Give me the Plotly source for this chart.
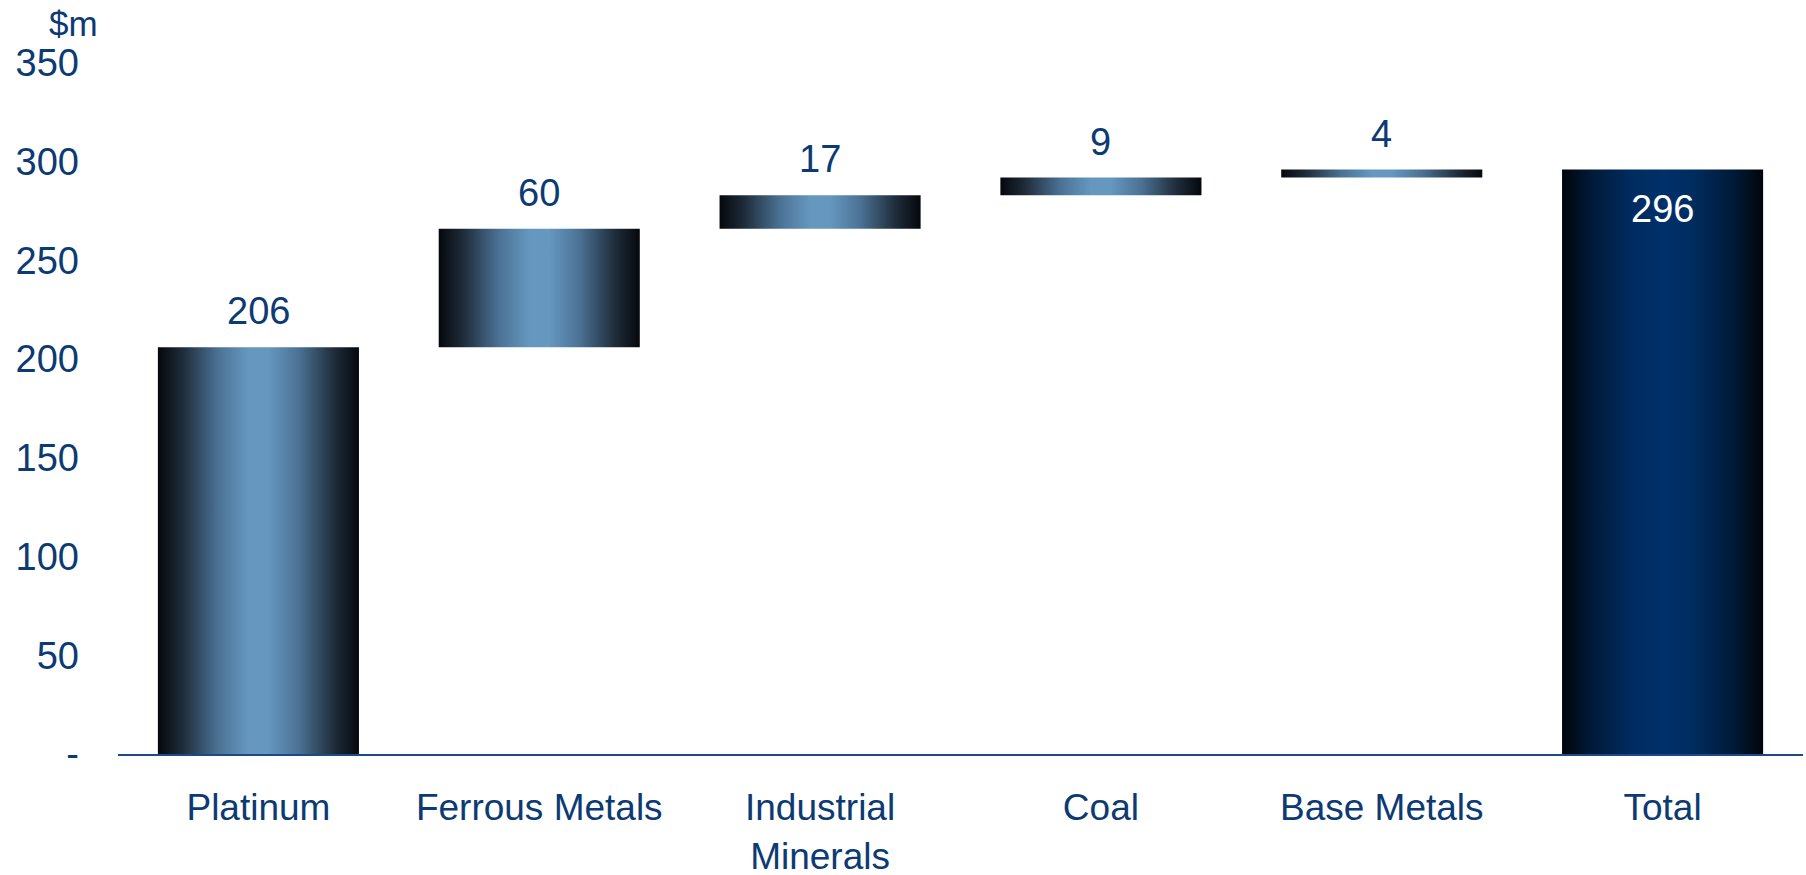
import plotly.graph_objects as go

categories = ["Platinum", "Ferrous Metals", "Industrial<br>Minerals", "Coal", "Base Metals", "Total"]
steps = [206, 60, 17, 9, 4]
total = 296
y_ticks = [0, 50, 100, 150, 200, 250, 300, 350]
y_tick_text = ["-", "50", "100", "150", "200", "250", "300", "350"]

NAVY = "#0c3a72"
FONT = "Arial, Liberation Sans, sans-serif"
BAR_W = 0.716

# dark edges, light centre – like the shaded slide bars
step_scale = [
    [0.0, "#05080c"], [0.12, "#1e2b39"], [0.3, "#4b7294"], [0.45, "#6597bf"],
    [0.55, "#6597bf"], [0.7, "#4b7294"], [0.88, "#1e2b39"], [1.0, "#05080c"],
]
total_scale = [
    [0.0, "#00050c"], [0.15, "#001a38"], [0.35, "#002c60"], [0.5, "#00306a"],
    [0.65, "#002c60"], [0.85, "#001a38"], [1.0, "#00050c"],
]


def box(i, lo, hi):
    x0, x1 = i - BAR_W / 2, i + BAR_W / 2
    return [x0, x1, x1, x0, x0], [lo, lo, hi, hi, lo]


fig = go.Figure()
annotations = []

running = 0
for i, v in enumerate(steps):
    xs, ys = box(i, running, running + v)
    fig.add_trace(go.Scatter(
        x=xs, y=ys, mode="lines", fill="toself", line=dict(width=0),
        fillgradient=dict(type="horizontal", colorscale=step_scale),
        hoverinfo="skip", showlegend=False,
    ))
    running += v
    annotations.append(dict(
        x=i, y=running, xref="x", yref="y", text=str(v), showarrow=False,
        yanchor="bottom", yshift=13, font=dict(size=38, color=NAVY, family=FONT),
    ))

ti = len(steps)
xs, ys = box(ti, 0, total)
fig.add_trace(go.Scatter(
    x=xs, y=ys, mode="lines", fill="toself", line=dict(width=0),
    fillgradient=dict(type="horizontal", colorscale=total_scale),
    hoverinfo="skip", showlegend=False,
))
annotations.append(dict(
    x=ti, y=total, xref="x", yref="y", text=str(total), showarrow=False,
    yanchor="top", yshift=-16, font=dict(size=38, color="white", family=FONT),
))
annotations.append(dict(
    x=-0.0267, y=1.057, xref="paper", yref="paper", text="$m", showarrow=False,
    xanchor="center", yanchor="middle", font=dict(size=35, color=NAVY, family=FONT),
))

fig.update_layout(
    width=1806, height=875,
    margin=dict(l=118, r=3, t=63, b=121),
    paper_bgcolor="white", plot_bgcolor="white",
    font=dict(family=FONT, color=NAVY, size=37),
    annotations=annotations,
    xaxis=dict(
        range=[-0.5, 5.5], tickvals=list(range(len(categories))), ticktext=categories,
        showgrid=False, zeroline=False, showline=True, linecolor="#1c4a88", linewidth=2,
        ticks="", ticklabelstandoff=20, tickfont=dict(size=37, color=NAVY),
        automargin=False,
    ),
    yaxis=dict(
        range=[0, 350], tickvals=y_ticks, ticktext=y_tick_text,
        showgrid=False, zeroline=False, showline=False,
        ticks="", ticklabelstandoff=38, tickfont=dict(size=38, color=NAVY),
        automargin=False,
    ),
)

fig.write_html(
    "out.html",
    config={"displayModeBar": False},
    post_script="document.body.style.margin='0';",
)
